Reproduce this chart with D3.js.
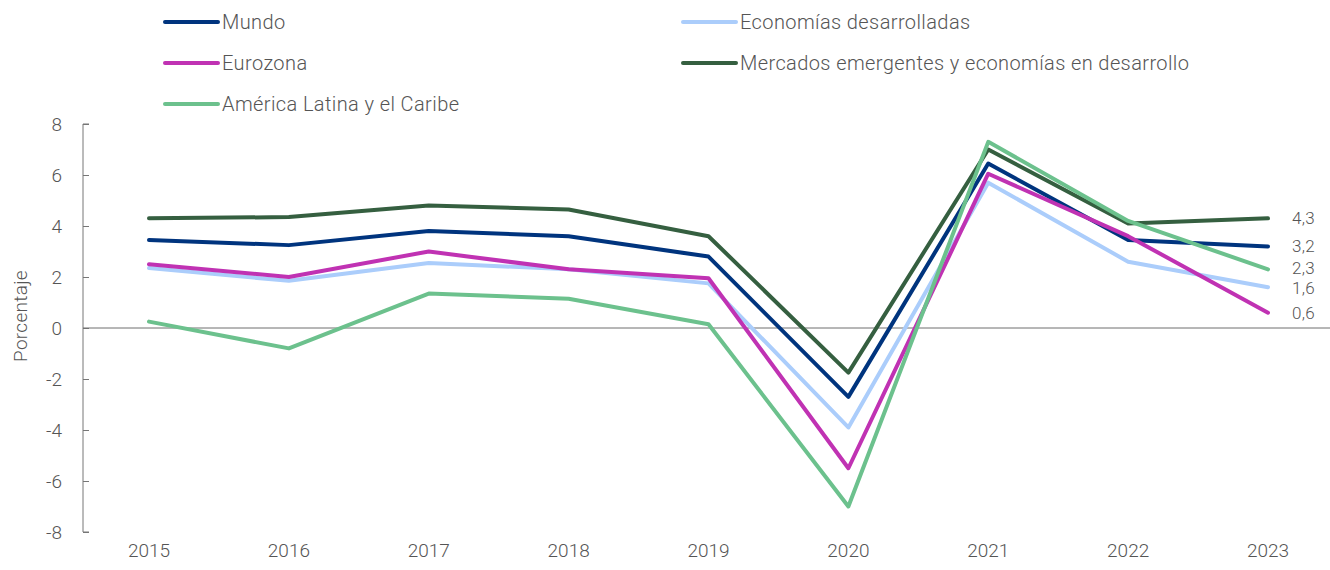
<!DOCTYPE html>
<html>
<head>
<meta charset="utf-8">
<script src="https://cdn.jsdelivr.net/npm/d3@7"></script>
<style>
  body { margin: 0; background: #fff; }
  svg text { font-family: Roboto, "Liberation Sans", sans-serif; font-weight: 300; fill: #555; }
</style>
</head>
<body>
<svg id="root"></svg>
<script>
// Crecimiento del PIB real, 2015-2023

const years = ["2015", "2016", "2017", "2018", "2019", "2020", "2021", "2022", "2023"];
const seriesNames = ["Mundo", "Economías desarrolladas", "Eurozona", "Mercados emergentes y economías en desarrollo", "América Latina y el Caribe"];
const mundo = [3.45, 3.25, 3.8, 3.6, 2.8, -2.7, 6.45, 3.45, 3.2];
const desarrolladas = [2.35, 1.85, 2.55, 2.3, 1.75, -3.9, 5.7, 2.6, 1.6];
const eurozona = [2.5, 2.0, 3.0, 2.3, 1.95, -5.5, 6.05, 3.6, 0.6];
const emergentes = [4.3, 4.35, 4.8, 4.65, 3.6, -1.75, 7.0, 4.1, 4.3];
const latam = [0.25, -0.8, 1.35, 1.15, 0.15, -7.0, 7.3, 4.2, 2.3];
const endLabels = ["3,2", "1,6", "0,6", "4,3", "2,3"];
const colors = ["#00347e", "#abcdfb", "#c032b3", "#355f40", "#6cc18d"];
const yTicks = [-8, -6, -4, -2, 0, 2, 4, 6, 8];

const allSeries = [mundo, desarrolladas, eurozona, emergentes, latam];

const width = 1330, height = 570;
const svg = d3.select("#root").attr("width", width).attr("height", height);

const axisX = 83;
const xScale = d3.scalePoint(years, [149, 1268]);
const yScale = d3.scaleLinear([-8, 8], [532, 124]);

// Eje Y
const yAxis = d3.axisRight(yScale).tickValues(yTicks).tickSize(6).tickFormat("");
const gy = svg.append("g").attr("transform", `translate(${axisX},0)`).call(yAxis);
gy.selectAll("path, line").attr("stroke", "#767676").attr("stroke-width", 1);
gy.select(".domain").attr("d", `M6,${yScale(8)}H0V${yScale(-8)}H6`);

svg.selectAll(".ytick")
  .data(yTicks)
  .join("text")
  .attr("class", "ytick")
  .attr("x", 62)
  .attr("y", d => yScale(d))
  .attr("dy", "0.35em")
  .attr("text-anchor", "end")
  .style("font-size", "19px")
  .text(d => d);

// Línea del cero
svg.append("line")
  .attr("x1", axisX).attr("x2", width)
  .attr("y1", yScale(0)).attr("y2", yScale(0))
  .attr("stroke", "#6f6f6f").attr("stroke-width", 1);

// Etiquetas eje X
svg.selectAll(".xtick")
  .data(years)
  .join("text")
  .attr("class", "xtick")
  .attr("x", d => xScale(d))
  .attr("y", 557)
  .attr("text-anchor", "middle")
  .style("font-size", "19px")
  .text(d => d);

// Título eje Y
svg.append("text")
  .attr("transform", `translate(27,${yScale(0) - 12}) rotate(-90)`)
  .attr("text-anchor", "middle")
  .style("font-size", "19px")
  .style("letter-spacing", "0.3px")
  .text("Porcentaje");

// Líneas
const line = d3.line()
  .x((d, i) => xScale(years[i]))
  .y(d => yScale(d));

allSeries.forEach((s, i) => {
  svg.append("path")
    .datum(s)
    .attr("fill", "none")
    .attr("stroke", colors[i])
    .attr("stroke-width", 4)
    .attr("stroke-linejoin", "round")
    .attr("stroke-linecap", "round")
    .attr("d", line);
});

// Etiquetas finales (2,3 y 1,6 se separan un poco)
const labelNudge = [0, 1, 0, 0, -1];
allSeries.forEach((s, i) => {
  svg.append("text")
    .attr("x", 1292)
    .attr("y", yScale(s[s.length - 1]) + labelNudge[i])
    .attr("dy", "0.35em")
    .style("font-size", "17px")
    .style("letter-spacing", "0.3px")
    .text(endLabels[i]);
});

// Leyenda
const legendPos = [[163, 22], [681, 22], [163, 63], [681, 63], [163, 104]];
seriesNames.forEach((name, i) => {
  const [lx, ly] = legendPos[i];
  const g = svg.append("g").attr("transform", `translate(${lx},${ly})`);
  g.append("line")
    .attr("x1", 2).attr("x2", 55)
    .attr("stroke", colors[i])
    .attr("stroke-width", 4)
    .attr("stroke-linecap", "round");
  g.append("text")
    .attr("x", 59)
    .attr("dy", "0.35em")
    .style("font-size", "20px")
    .style("letter-spacing", "0.4px")
    .text(name);
});
</script>
</body>
</html>
